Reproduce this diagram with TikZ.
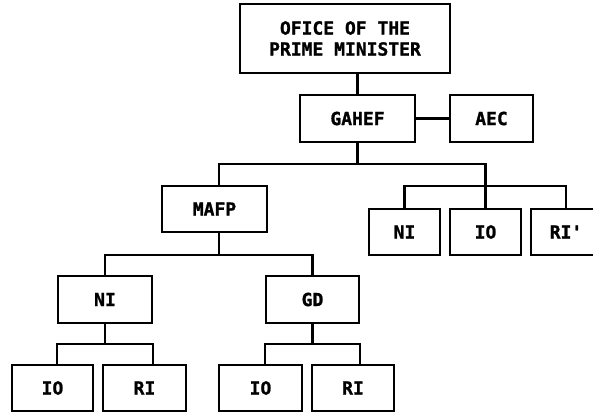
\documentclass[tikz,border=0pt]{standalone}
\usepackage{fontspec}
\newfontfamily\plotfont{DejaVu Sans Mono}[BoldFeatures={FakeBold=1.2}]
\begin{document}
\begin{tikzpicture}[x=1pt,y=-1pt,
  orgbox/.style={draw, line width=2.4pt, inner sep=0pt, align=center,
    font=\plotfont\bfseries\fontsize{18}{21}\selectfont},
  conn/.style={line width=2.4pt}]
\useasboundingbox (0,0) rectangle (593,413);
\clip (0,0) rectangle (593,413);
\node[orgbox, minimum width=210, minimum height=69] (opm) at (345,38.5) {OFICE OF THE\\PRIME MINISTER};
\node[orgbox, minimum width=115, minimum height=47] (gahef) at (357.5,118.5) {GAHEF};
\node[orgbox, minimum width=83, minimum height=47] (aec) at (491.5,118.5) {AEC};
\node[orgbox, minimum width=105, minimum height=46] (mafp) at (214.5,209) {MAFP};
\node[orgbox, minimum width=71, minimum height=46] (rni) at (404.5,232) {NI};
\node[orgbox, minimum width=71, minimum height=46] (rio) at (485.5,232) {IO};
\node[orgbox, minimum width=70, minimum height=46] (rri) at (566,232) {RI'};
\node[orgbox, minimum width=94, minimum height=47] (ni) at (105,299.5) {NI};
\node[orgbox, minimum width=93, minimum height=47] (gd) at (312.5,299.5) {GD};
\node[orgbox, minimum width=81, minimum height=46] (io1) at (52.5,388) {IO};
\node[orgbox, minimum width=83, minimum height=46] (ri1) at (144.5,388) {RI};
\node[orgbox, minimum width=83, minimum height=46] (io2) at (260.5,388) {IO};
\node[orgbox, minimum width=82, minimum height=46] (ri2) at (353,388) {RI};
\coordinate (b1) at (0,164);
\coordinate (b2) at (0,186);
\coordinate (b3) at (0,255);
\coordinate (b4) at (0,344);
% top
\draw[conn] (gahef.north) -- (gahef.north |- opm.south);
\draw[conn] (gahef.east) -- (aec.west);
\draw[conn] (gahef.south) -- (gahef.south |- b1);
\draw[conn] ([xshift=4.5]mafp.north) |- (rio.north |- b1) -- (rio.north);
\draw[conn] (rni.north) |- (rri.north |- b2) -- (rri.north);
% MAFP
\draw[conn] ([xshift=4.5]mafp.south) -- ([xshift=4.5]mafp.south |- b3);
\draw[conn] (ni.north) |- (gd.north |- b3) -- (gd.north);
% NI
\draw[conn] (ni.south) -- (ni.south |- b4);
\draw[conn] (io1.north -| ni.west) |- (ni.east |- b4) -- (ri1.north -| ni.east);
% GD
\draw[conn] (gd.south) -- (gd.south |- b4);
\draw[conn] (io2.north -| gd.west) |- (gd.east |- b4) -- (ri2.north -| gd.east);
\end{tikzpicture}
\end{document}
